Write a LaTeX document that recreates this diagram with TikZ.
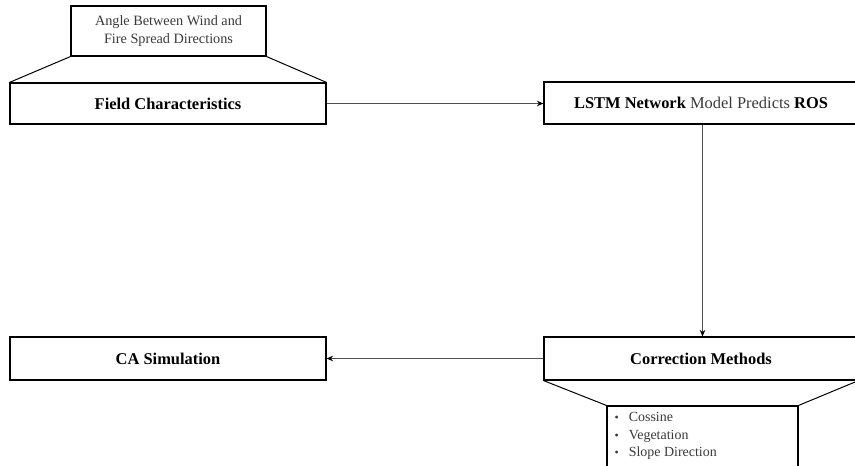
\documentclass[tikz,border=0pt]{standalone}
\usepackage{fontspec}
\setmainfont{Liberation Serif}
\usetikzlibrary{arrows.meta}
\definecolor{inkgray}{HTML}{3A3A3A}
\definecolor{linkgray}{HTML}{505050}
\newcommand{\listdot}{{\fontsize{12}{12}\selectfont\textbullet}}
\tikzset{
  box/.style={draw=black, line width=1.1bp, fill=white, inner sep=0pt, font=\fontsize{16.5}{19}\selectfont},
  subbox/.style={draw=black, line width=1.1bp, fill=white, inner sep=0pt},
  link/.style={draw=linkgray, line width=1.2bp, -{Stealth[length=6.5bp,width=5.5bp,color=black]}},
  flare/.style={line width=1bp}
}
\begin{document}
\begin{tikzpicture}[x=1bp,y=-1bp]
\useasboundingbox (0,0) rectangle (855,466);
\clip (0,0) rectangle (855,466);
\fill[white] (0,0) rectangle (855,466);

% upper-left group: field characteristics with its detail box
\node[subbox, minimum width=195bp, minimum height=50bp, align=center,
      text=inkgray, font=\fontsize{14.3}{18.5}\selectfont] (angle) at (168.5,31)
      {Angle Between Wind and\\Fire Spread Directions};
\node[box, minimum width=316bp, minimum height=41bp] (field) at (168,103.5)
      {\textbf{Field Characteristics}};
\draw[flare] (angle.south west) -- (field.north west);
\draw[flare] (angle.south east) -- (field.north east);

% prediction model
\node[box, minimum width=314bp, minimum height=42bp] (lstm) at (701,103)
      {\textbf{LSTM Network} {\color{inkgray}Model Predicts} \textbf{ROS}};

% correction step with its list of methods
\node[box, minimum width=314bp, minimum height=43bp] (corr) at (701,358.5)
      {\textbf{Correction Methods}};
\node[subbox, minimum width=191bp, minimum height=70bp] (methods) at (702.5,441) {};
\node[anchor=north west, inner sep=0pt, align=left, text=inkgray,
      font=\fontsize{14}{17.5}\selectfont] (list) at ([xshift=8bp,yshift=-7bp]methods.north west)
      {\listdot\hspace{10bp}Cossine\\\listdot\hspace{10bp}Vegetation\\\listdot\hspace{10bp}Slope Direction};
\draw[flare] (corr.south west) -- (methods.north west);
\draw[flare] (corr.south east) -- (methods.north east);

% simulation
\node[box, minimum width=316bp, minimum height=43bp] (ca) at (168,358.5)
      {\textbf{CA Simulation}};

% flow
\draw[link] (field.east) -- (field.east -| lstm.west);
\draw[link] (lstm.south -| methods.north) -- (corr.north -| methods.north);
\draw[link] (corr.west) -- (ca.east);
\end{tikzpicture}
\end{document}
